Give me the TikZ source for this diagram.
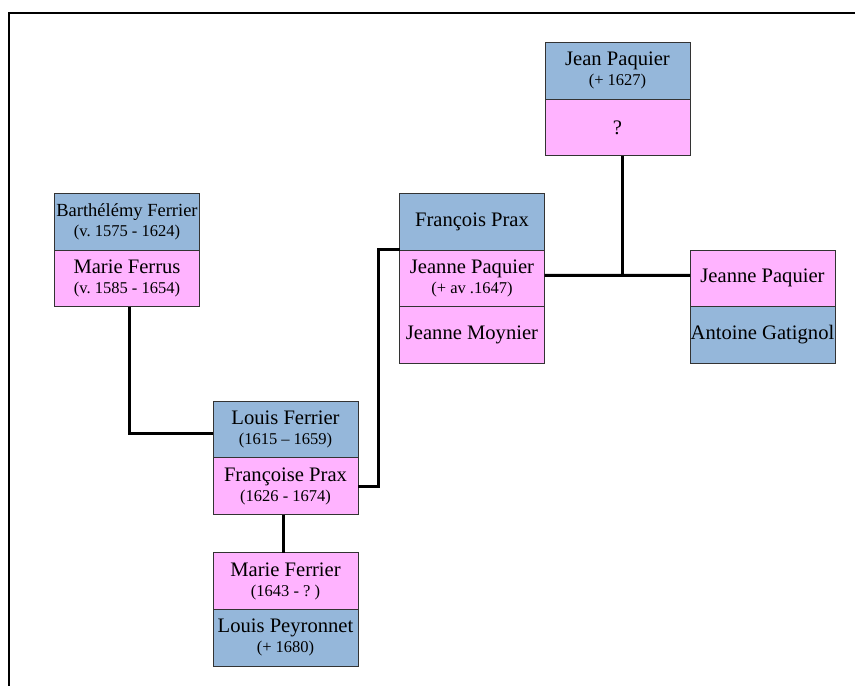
\documentclass[tikz,border=0pt]{standalone}
\usepackage{fontspec}
\setmainfont{Liberation Serif}
\usetikzlibrary{positioning}
\definecolor{manblue}{RGB}{149,183,218}
\definecolor{womanpink}{RGB}{255,179,255}
\newcommand{\lifespan}[1]{\\{\fontsize{16.5}{20}\selectfont #1}}
\frenchspacing

\begin{document}
\begin{tikzpicture}[x=1pt, y=-1pt,
    cell/.style={draw=black!80, line width=0.8pt, minimum width=145pt, minimum height=56.7pt, inner sep=0pt, outer sep=0pt, align=center, font=\fontsize{20.6}{20}\selectfont},
    man/.style={cell, fill=manblue},
    woman/.style={cell, fill=womanpink},
    link/.style={line width=3pt}]
        \useasboundingbox (0,0) rectangle (855,686);
        \draw[line width=2.4pt] (9,686) -- (9,13) -- (855,13);

        % Ferrier grandparents
        \node[man] (barthelemy) at (127,221.6) {{\fontsize{18.5}{20}\selectfont Barthélémy Ferrier}\lifespan{(v. 1575 - 1624)}};
        \node[woman, below=0pt of barthelemy] (ferrus) {Marie Ferrus\lifespan{(v. 1585 - 1654)}};

        % couple and child
        \node[man] (louis) at (285.5,429.5) {Louis Ferrier\lifespan{(1615 – 1659)}};
        \node[woman, below=0pt of louis] (francoise) {Françoise Prax\lifespan{(1626 - 1674)}};
        \node[woman] (mferrier) at (285.5,581) {Marie Ferrier\lifespan{(1643 - ? )}};
        \node[man, below=0pt of mferrier] (peyronnet) {Louis Peyronnet\lifespan{(+ 1680)}};

        % Prax family
        \node[man] (fprax) at (472,221.6) {François Prax};
        \node[woman, below=0pt of fprax] (jpaquier) {Jeanne Paquier\lifespan{(+ av .1647)}};
        \node[woman, below=0pt of jpaquier] (moynier) {Jeanne Moynier};

        % Paquier family
        \node[man] (jean) at (617.5,70.7) {Jean Paquier\lifespan{(+ 1627)}};
        \node[woman, below=0pt of jean] (unknown) {?};
        \node[woman] (jpaquier2) at (762.5,278.3) {Jeanne Paquier};
        \node[man, below=0pt of jpaquier2] (gatignol) {Antoine Gatignol};

        \draw[link] ([xshift=2.5pt]ferrus.south) |- ([yshift=-3.5pt]louis.west);
        \draw[link] (francoise.east) -- ++(20.5,0) |- (jpaquier.north west);
        \draw[link] ([xshift=-2.5pt]francoise.south) -- ([xshift=-2.5pt]mferrier.north);
        \draw[link] ([yshift=3pt]jpaquier.east) -- ([yshift=3pt]jpaquier2.west);
        \draw[link] ([xshift=4.5pt]unknown.south) -- ([xshift=4.5pt,yshift=3pt]unknown.south |- jpaquier.east);
    \end{tikzpicture}
\end{document}
